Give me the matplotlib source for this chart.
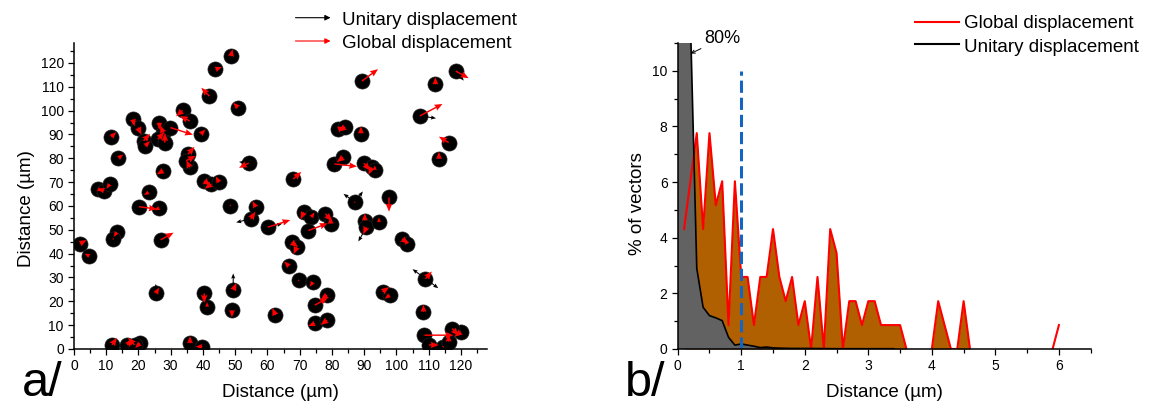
import numpy as np
import matplotlib
matplotlib.use("Agg")
import matplotlib.pyplot as plt
from matplotlib.ticker import MultipleLocator

plt.rcParams['font.family'] = ['Liberation Sans', 'DejaVu Sans']

# ---- panel a : cell positions (um) and displacement vectors (um) ----
cell_x = [1.9, 4.8, 7.4, 9.4, 11.1, 11.6, 13.8, 13.3, 12.2, 11.8, 16.6, 20.5, 18.8,
          18.3, 19.9, 21.6, 22.1, 20.2, 23.2, 26.5, 27.7, 26.0, 29.9, 28.2, 27.7,
          26.5, 26.9, 25.4, 33.7, 35.9, 39.3, 35.4, 35.9, 34.8, 36.0, 39.8, 40.4,
          42.6, 45.0, 42.0, 43.9, 48.7, 50.9, 48.5, 54.2, 54.8, 56.4, 40.4, 41.3,
          49.4, 49.0, 60.1, 62.5, 68.0, 67.5, 69.1, 66.7, 69.7, 71.3, 73.6, 72.7,
          74.1, 74.7, 74.7, 78.5, 78.0, 79.6, 78.5, 81.9, 84.1, 80.8, 83.5, 87.1,
          89.3, 89.0, 89.9, 92.4, 90.2, 90.7, 93.3, 94.6, 97.7, 95.7, 97.9, 101.8,
          103.4, 107.3, 109.0, 108.4, 108.7, 110.1, 114.5, 116.2, 120.0, 117.3,
          112.1, 113.2, 116.2, 118.4]
cell_y = [44.2, 39.0, 67.1, 66.4, 69.2, 89.0, 80.1, 49.0, 46.2, 1.7, 1.7, 2.4, 1.7,
          96.4, 92.9, 87.3, 85.2, 59.7, 65.7, 95.0, 90.8, 88.0, 92.9, 86.6, 74.8,
          59.2, 45.8, 23.3, 100.1, 95.7, 90.1, 81.8, 76.2, 79.0, 2.4, 1.0, 70.6,
          69.2, 69.9, 106.1, 117.3, 122.8, 101.3, 60.2, 78.0, 54.6, 59.5, 23.3, 17.7,
          24.7, 16.3, 51.1, 14.2, 71.3, 44.8, 42.8, 34.7, 28.8, 57.4, 55.3, 49.7,
          28.1, 18.4, 10.7, 12.1, 56.7, 52.5, 22.6, 92.2, 93.2, 77.6, 80.4, 61.6,
          112.4, 90.4, 77.9, 76.2, 53.9, 51.1, 75.1, 53.2, 63.6, 24.0, 22.6, 46.2,
          44.2, 97.8, 29.5, 15.6, 5.8, 1.7, 1.0, 3.1, 7.2, 8.6,
          111.0, 79.7, 86.6, 116.6]
glob_dx = [2.0, -1.5, 1.5, -2.0, -1.0, 1.5, 1.5, -1.0, 0.0, 1.5, 1.5, -1.5, -2.0,
           0.5, 1.0, 2.0, 1.5, 5.5, -1.5, 0.0, -1.0, 2.0, 7.0, 0.0, -2.0,
           -1.5, 4.0, 1.0, -2.0, -3.0, 1.5, 2.0, -1.0, 3.0, 0.0, -2.0, 2.0,
           -2.0, -1.0, -2.5, 2.0, 0.5, -1.5, 0.0, -3.0, 1.5, -1.0, 0.0, 0.0,
           1.0, 0.0, 7.0, -1.0, 2.5, 2.0, -1.0, -1.5, 0.0, -1.0, 1.0, 6.0,
           -1.0, 4.0, -2.0, -2.0, 2.0, 0.0, -2.0, 2.0, -2.0, 7.0, -2.0, 0.0,
           5.0, 0.0, 2.0, -1.0, 0.0, -1.0, 0.0, 0.0, 0.0, 2.0, -1.5, 2.0,
           -1.0, 7.0, 2.0, 0.0, 9.0, 3.0, 0.0, 0.0, -2.0, 2.0,
           0.0, 0.0, -3.0, 4.0]
glob_dy = [1.5, 1.0, -1.0, 1.0, -2.0, 2.0, 1.5, -2.0, 0.0, 3.0, 2.5, -2.0, 3.0,
           -3.0, -3.0, 3.0, 2.0, -1.0, -1.0, -3.0, 3.0, 3.0, -3.0, 4.0, -1.5,
           -1.0, 3.0, 2.5, -2.5, 2.0, 2.0, 3.0, 3.0, 2.0, 3.0, 0.0, -2.0,
           -2.0, 2.5, 3.5, 1.0, 3.0, 2.0, 0.0, -2.0, 3.0, 2.5, -4.0, 2.0,
           3.0, -3.0, 3.0, 3.0, 3.0, -2.0, -3.0, 2.0, 0.0, -3.0, 2.0, 3.0,
           -2.0, 3.0, -1.0, -2.0, -3.0, 3.0, -2.0, 1.0, -2.0, -1.0, -2.0, 0.0,
           5.0, 3.0, -3.0, -3.0, 3.0, -3.0, 2.0, 2.0, -6.0, 2.0, -1.5, -2.0,
           2.0, 5.0, 3.0, 3.0, 0.0, 0.0, 0.0, 3.0, -2.0, -3.0,
           3.0, 3.0, 2.5, -3.0]

# a few clearly visible unitary (black) vectors
unit_cx = [87.1, 87.1, 109.0, 109.0, 25.4, 49.4, 60.1, 107.3, 54.8, 118.4, 54.2, 90.7]
unit_cy = [61.6, 61.6, 29.5, 29.5, 23.3, 24.7, 51.1, 97.8, 54.6, 116.6, 78.0, 51.1]
unit_dx = [-3.5, 2.5, -4.0, 4.0, 0.0, 0.0, 4.5, 5.0, -4.5, 2.5, -3.0, -2.5]
unit_dy = [3.5, 4.5, 4.0, -4.0, 4.0, 7.0, 1.5, -1.0, -1.5, -4.0, 0.5, -6.0]

# ---- panel b : histogram of displacement distances ----
unit_dist = [0.0, 0.1, 0.2, 0.25, 0.3, 0.4, 0.5, 0.6, 0.7, 0.8, 0.9, 1.0, 1.1,
             1.2, 1.3, 1.4, 1.5, 1.6, 1.8, 2.0, 2.5, 3.0, 3.4]
unit_pct = [80, 80, 11.8, 7.4, 2.9, 1.5, 1.2, 1.12, 1.02, 0.42, 0.14, 0.18, 0.14,
            0.1, 0.05, 0.07, 0.04, 0.03, 0.02, 0.02, 0.01, 0.01, 0.01]
glob_dist = [round(0.1 * i, 1) for i in range(1, 61)]
glob_pct = [4.31, 6.03, 7.76, 4.31, 7.76, 5.17, 6.03, 0.86, 6.03, 2.59,
            2.59, 0.86, 2.59, 2.59, 4.31, 2.59, 1.72, 2.59, 0.86, 1.72,
            0, 2.59, 0, 4.31, 3.45, 0, 1.72, 1.72, 0.86, 1.72,
            1.72, 0.86, 0.86, 0.86, 0.86, 0, 0, 0, 0, 0,
            1.72, 0.86, 0, 0, 1.72, 0, 0, 0, 0, 0,
            0, 0, 0, 0, 0, 0, 0, 0, 0, 0.86]

W, H = 1149, 405
fig = plt.figure(figsize=(W / 100, H / 100), dpi=100)


def box(l, t, r, b):
    return [l / W, 1 - b / H, (r - l) / W, (b - t) / H]


def style(ax):
    for s in ['top', 'right']:
        ax.spines[s].set_visible(False)
    for s in ['left', 'bottom']:
        ax.spines[s].set_linewidth(1.1)
        ax.spines[s].set_zorder(10)
    ax.tick_params(which='major', direction='out', length=4.3, width=0.9,
                   labelsize=10, pad=3)
    ax.tick_params(which='minor', direction='out', length=2.8, width=0.9)


# ================= panel a =================
axa = fig.add_axes(box(73.9, 42.7, 486.7, 349))
style(axa)
axa.scatter(cell_x, cell_y, s=118, c='black', edgecolors='#222222', linewidths=0.5,
            zorder=2)
axa.quiver(unit_cx, unit_cy, unit_dx, unit_dy, angles='xy', scale_units='xy', scale=1,
           color='black', width=0.0025, headwidth=4, headlength=5, headaxislength=4.5,
           zorder=3)
axa.quiver(cell_x, cell_y, glob_dx, glob_dy, angles='xy', scale_units='xy', scale=1,
           color='red', width=0.0035, headwidth=4.5, headlength=5.5, headaxislength=5,
           zorder=4)
axa.set_xlim(0, 128)
axa.set_ylim(0, 128.5)
axa.xaxis.set_minor_locator(MultipleLocator(5))
axa.yaxis.set_minor_locator(MultipleLocator(5))
axa.set_xticks(np.arange(0, 121, 10))
axa.set_yticks(np.arange(0, 121, 10))
axa.set_xlabel('Distance (µm)', fontsize=13.5)
axa.set_ylabel('Distance (µm)', fontsize=13.5)
axa.xaxis.set_label_coords(0.5, -0.115)
axa.yaxis.set_label_coords(-0.094, 0.46)

# legend a (arrows)
for yy, col, lab, base in [(17.7, 'black', 'Unitary displacement', 25),
                           (41, 'red', 'Global displacement', 48.3)]:
    fig.add_artist(matplotlib.patches.FancyArrowPatch(
        (292.7 / W, 1 - yy / H), (333.3 / W, 1 - yy / H), transform=fig.transFigure,
        arrowstyle='-|>', mutation_scale=8, lw=0.8, color=col))
    fig.text(341.7 / W, 1 - base / H, lab, fontsize=13.5, va='baseline', ha='left')

# ================= panel b =================
axb = fig.add_axes(box(677.7, 43, 1090.7, 349))
style(axb)
g = np.array(glob_pct, dtype=float)
line_g = g.copy()
for i in range(len(g)):
    left = g[i - 1] if i > 0 else 0
    right = g[i + 1] if i < len(g) - 1 else 0
    if g[i] == 0 and left == 0 and right == 0:
        line_g[i] = np.nan
# the filled area stops at 4.6 um, the last point is only drawn as a line
axb.fill_between(glob_dist[:-1], glob_pct[:-1], 0, color='#B06000', lw=0, zorder=1)
axb.fill_between(unit_dist, unit_pct, 0, color='#626262', lw=0, zorder=2)
axb.plot(glob_dist, line_g, color='red', lw=1.5, zorder=3, label='Global displacement')
axb.plot(unit_dist, unit_pct, color='black', lw=1.2, zorder=4, label='Unitary displacement')
axb.plot([1, 1], [0, 10], color='#1565C0', lw=2.2, dashes=(4, 1.6), zorder=5)
axb.annotate('80%', xy=(0.205, 10.62), xytext=(0.41, 11.0), fontsize=13,
             va='baseline', ha='left', annotation_clip=False,
             arrowprops=dict(arrowstyle='->', color='black', lw=0.7,
                             shrinkA=0, shrinkB=0, mutation_scale=6))
axb.set_xlim(0, 6.5)
axb.set_ylim(0, 11)
axb.set_xticks(range(0, 7))
axb.xaxis.set_minor_locator(MultipleLocator(0.5))
axb.set_yticks(range(0, 11, 2))
axb.yaxis.set_minor_locator(MultipleLocator(1))
axb.set_xlabel('Distance (µm)', fontsize=13.5)
axb.set_ylabel('% of vectors', fontsize=13.5)
axb.xaxis.set_label_coords(0.5, -0.115)
axb.yaxis.set_label_coords(-0.077, 0.475)

# legend b
for yy, col, lab, base in [(22.3, 'red', 'Global displacement', 28.3),
                           (44.3, 'black', 'Unitary displacement', 51.7)]:
    fig.add_artist(matplotlib.lines.Line2D([915 / W, 959 / W], [1 - yy / H, 1 - yy / H],
                                           transform=fig.transFigure, color=col, lw=1.5))
    fig.text(964.3 / W, 1 - base / H, lab, fontsize=13.5, va='baseline', ha='left')

# panel letters
fig.text(21.7 / W, 1 - 396 / H, 'a/', fontsize=35, va='baseline', ha='left')
fig.text(625 / W, 1 - 396 / H, 'b/', fontsize=35, va='baseline', ha='left')

fig.savefig('out.png', dpi=100)
